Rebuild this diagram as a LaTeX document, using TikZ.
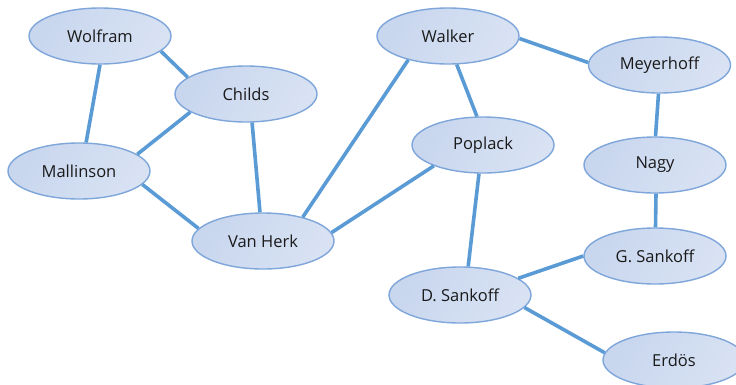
\documentclass[tikz,border=0pt]{standalone}
\usepackage{fontspec}
\setmainfont{Open Sans}
\usetikzlibrary{shapes.geometric}
\definecolor{edgeblue}{HTML}{5B9BD5}
\definecolor{nodeborder}{HTML}{7EA6DA}
\definecolor{fillA}{HTML}{C8D6EE}
\definecolor{fillB}{HTML}{D8E2F3}
\definecolor{txt}{HTML}{1A1A1A}
\tikzset{
  person/.style={ellipse, draw=nodeborder, line width=1.4pt, left color=fillA, right color=fillB, shading angle=60,
    minimum width=142pt, minimum height=56pt, inner sep=0pt, text=txt, font=\fontsize{16.5}{19}\selectfont},
  link/.style={draw=edgeblue, line width=3.6pt}
}
\begin{document}
\begin{tikzpicture}[x=1pt,y=-1pt]
\useasboundingbox (0,0) rectangle (736,384);
\clip (0,0) rectangle (736,384);
\node[person] (wolfram) at (100,36) {Wolfram};
\node[person] (childs) at (246,94) {Childs};
\node[person] (mallinson) at (79,171) {Mallinson};
\node[person] (vanherk) at (263,241) {Van Herk};
\node[person] (walker) at (448,36) {Walker};
\node[person] (poplack) at (483,145) {Poplack};
\node[person] (meyerhoff) at (659.5,65) {Meyerhoff};
\node[person] (nagy) at (655,165) {Nagy};
\node[person] (gsankoff) at (655,256) {G. Sankoff};
\node[person] (dsankoff) at (460,295) {D. Sankoff};
\node[person] (erdos) at (674,360) {Erdös};
\path[link] (wolfram.-90) -- (mallinson.76);
\path[link] (wolfram.-14) -- (childs.164.6);
\path[link] (childs.198.4) -- (mallinson.16.6);
\path[link] (childs.-78) -- (vanherk.96);
\path[link] (mallinson.-12.5) -- (vanherk.169);
\path[link] (vanherk.31) -- (walker.211.6);
\path[link] (vanherk.7.6) -- (poplack.203.7);
\path[link] (walker.-73) -- (poplack.102);
\path[link] (walker.-2.4) -- (meyerhoff.178.4);
\path[link] (meyerhoff.-92) -- (nagy.89);
\path[link] (nagy.-88) -- (gsankoff.89);
\path[link] (poplack.-98) -- (dsankoff.74);
\path[link] (dsankoff.16.6) -- (gsankoff.180);
\path[link] (dsankoff.-11) -- (erdos.174);
\end{tikzpicture}
\end{document}
